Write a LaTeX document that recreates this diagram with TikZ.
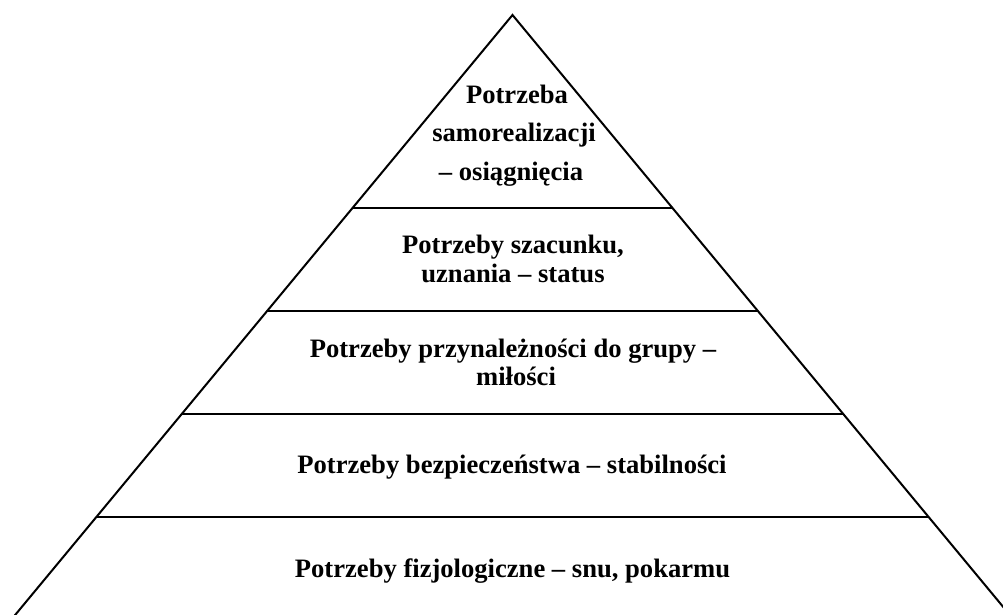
\documentclass[tikz,border=0pt]{standalone}
\usepackage{fontspec}
\setmainfont{Liberation Serif}
\tikzset{
  side/.style={line width=2pt, line cap=round},
  tier/.style={line width=2.6pt},
  lbl/.style={font=\bfseries\fontsize{26.6}{30}\selectfont, inner sep=0pt, anchor=base},
}
\begin{document}
\begin{tikzpicture}[x=1pt,y=-1pt]
\useasboundingbox (0,0) rectangle (1003,615);
\clip (0,0) rectangle (1003,615);
% apex and base points (base below the visible area)
\coordinate (A) at (512.5,15);
\coordinate (BL) at (-5.6,640);
\coordinate (BR) at (1030.6,640);
% tier boundaries
\coordinate (L1) at (352.5,208); \coordinate (R1) at (672.5,208);
\coordinate (L2) at (267.1,311); \coordinate (R2) at (757.9,311);
\coordinate (L3) at (181.7,414); \coordinate (R3) at (843.3,414);
\coordinate (L4) at (96.3,517);  \coordinate (R4) at (928.7,517);
\draw[side] (BL) -- (A) -- (BR);
\draw[tier] (L1) -- (R1);
\draw[tier] (L2) -- (R2);
\draw[tier] (L3) -- (R3);
\draw[tier] (L4) -- (R4);
% labels
\node[lbl] (t1a) at (517,103) {Potrzeba};
\node[lbl] (t1b) at (514,142) {samorealizacji};
\node[lbl] (t1c) at (511,180) {– osiągnięcia};
\node[lbl] (t2a) at (513,253) {Potrzeby szacunku,};
\node[lbl] (t2b) at (513,282) {uznania – status};
\node[lbl] (t3a) at (513,357) {Potrzeby przynależności do grupy –};
\node[lbl] (t3b) at (516,385) {miłości};
\node[lbl] (t4)  at (512,473) {Potrzeby bezpieczeństwa – stabilności};
\node[lbl] (t5)  at (512.5,577) {Potrzeby fizjologiczne – snu, pokarmu};
\end{tikzpicture}
\end{document}
